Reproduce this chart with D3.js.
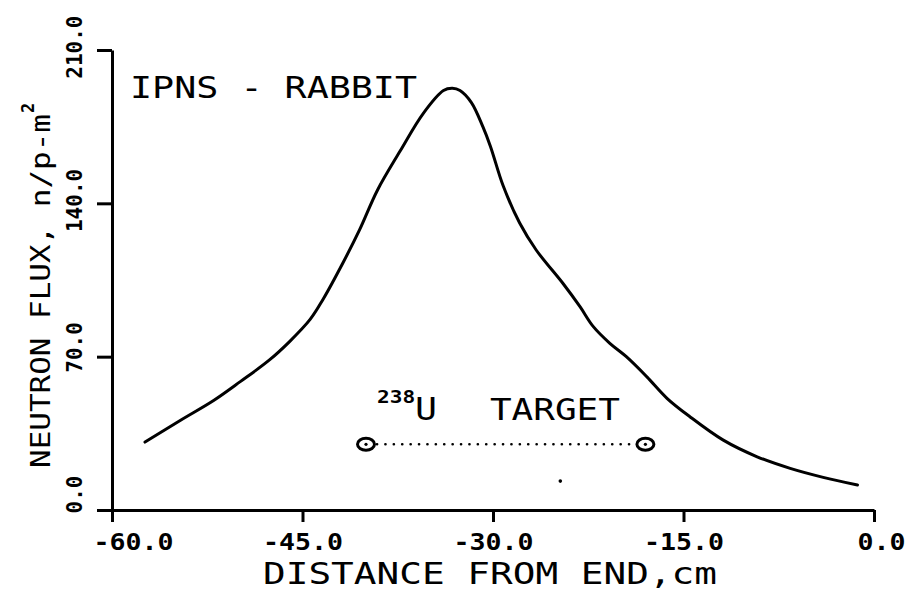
<!DOCTYPE html>
<html>
<head>
<meta charset="utf-8">
<script src="https://cdn.jsdelivr.net/npm/d3@7"></script>
<style>
  html, body { margin: 0; padding: 0; background: #fff; }
  svg { display: block; }
  text { font-family: "DejaVu Sans Mono", monospace; fill: #000; }
</style>
</head>
<body>
<svg id="chart" width="908" height="592"></svg>
<script>
// ---- data ----
const xTicks = [-60, -45, -30, -15, 0];
const xTickLabels = ["-60.0", "-45.0", "-30.0", "-15.0", "0.0"];
const yTicks = [0, 70, 140, 210];
const yTickLabels = ["0.0", "70.0", "140.0", "210.0"];

const distance = [-57.4, -54.6, -52.0, -49.9, -47.6, -46.0, -44.4, -43.4, -41.8, -40.5,
                  -39.1, -37.3, -35.5, -33.9, -33.2, -32.6, -31.7, -30.8, -30.2, -29.2,
                  -27.9, -26.6, -24.5, -23.15, -22.1, -20.8, -19.5, -17.9, -16.3, -14.5,
                  -11.9, -9.2, -6.6, -4.0, -1.3];
const flux = [31, 41, 50, 58.6, 68.5, 77, 87, 96, 113, 128,
              146, 164, 181, 191.5, 192.5, 191.5, 186, 175, 166, 148,
              131, 118.7, 103.5, 92.8, 83.7, 76.1, 70, 60.9, 51, 42.6,
              32, 24.3, 19, 14.9, 11.4];

const targetExtent = [-40, -18];
const targetFlux = 30;
const strayPoint = [[-24.7, 13.2]];

const xTitle = "DISTANCE FROM END,cm";
const yTitle = "NEUTRON FLUX, n/p-m";
const yTitleSup = "2";
const plotLabel = "IPNS - RABBIT";
const targetIsotope = "238";
const targetElement = "U";
const targetWord = "TARGET";

// ---- chart ----
const svg = d3.select("#chart");
const x = d3.scaleLinear().domain([-60, 0]).range([112, 874]);
const y = d3.scaleLinear().domain([0, 210]).range([510, 50]);

const ink = "#000";

// X axis
const xAxis = svg.append("g")
  .attr("transform", `translate(0,${y(0)})`)
  .call(d3.axisBottom(x).tickValues(xTicks).tickSize(12).tickSizeOuter(0)
        .tickFormat((d, i) => xTickLabels[i]));
xAxis.select(".domain").attr("stroke", ink).attr("stroke-width", 3);
xAxis.selectAll(".tick line").attr("stroke", ink).attr("stroke-width", 3);
xAxis.selectAll(".tick text")
  .attr("y", 40).attr("dy", 0)
  .attr("dx", (d, i) => i === 0 ? 21 : (i === xTicks.length - 1 ? 7 : 0))
  .attr("font-size", 23).attr("font-weight", "bold")
  .attr("font-family", "DejaVu Sans Mono")
  .attr("textLength", (d, i) => xTickLabels[i].length * 16)
  .attr("lengthAdjust", "spacingAndGlyphs")
  .attr("fill", ink);

// Y axis
const yAxis = svg.append("g")
  .attr("transform", `translate(${x(-60)},0)`)
  .call(d3.axisLeft(y).tickValues(yTicks).tickSize(15).tickSizeOuter(0)
        .tickFormat((d, i) => yTickLabels[i]));
yAxis.select(".domain").attr("stroke", ink).attr("stroke-width", 3);
yAxis.selectAll(".tick line").attr("stroke", ink).attr("stroke-width", 3);
yAxis.selectAll(".tick text")
  .attr("x", 0).attr("y", 0).attr("dy", 0)
  .attr("transform", "translate(-30,-35) rotate(-90)")
  .attr("text-anchor", "end")
  .attr("font-size", 21).attr("font-weight", "bold")
  .attr("font-family", "DejaVu Sans Mono")
  .attr("fill", ink);

// Curve
const line = d3.line()
  .x((d, i) => x(distance[i]))
  .y((d, i) => y(flux[i]))
  .curve(d3.curveCatmullRom.alpha(0.5));
svg.append("path")
  .datum(flux)
  .attr("d", line)
  .attr("fill", "none")
  .attr("stroke", ink)
  .attr("stroke-width", 3)
  .attr("stroke-linejoin", "round")
  .attr("stroke-linecap", "round");

// Target extent (dotted line with end markers)
svg.append("line")
  .attr("x1", x(targetExtent[0]) + 11).attr("x2", x(targetExtent[1]) - 9)
  .attr("y1", y(targetFlux)).attr("y2", y(targetFlux))
  .attr("stroke", ink).attr("stroke-width", 2.6)
  .attr("stroke-linecap", "round")
  .attr("stroke-dasharray", "0.1 8.3");
targetExtent.forEach(v => {
  svg.append("ellipse")
    .attr("cx", x(v)).attr("cy", y(targetFlux))
    .attr("rx", 8.5).attr("ry", 6)
    .attr("fill", "none").attr("stroke", ink).attr("stroke-width", 3);
  svg.append("circle")
    .attr("cx", x(v)).attr("cy", y(targetFlux)).attr("r", 1.6).attr("fill", ink);
});

// stray point in the original figure
svg.selectAll("circle.stray").data(strayPoint).enter().append("circle")
  .attr("class", "stray")
  .attr("cx", d => x(d[0])).attr("cy", d => y(d[1])).attr("r", 1.8).attr("fill", ink);

// Labels
svg.append("text")
  .attr("x", x(-58.58)).attr("y", y(188.1))
  .attr("font-size", 31)
  .attr("textLength", 287).attr("lengthAdjust", "spacingAndGlyphs")
  .text(plotLabel);

svg.append("text")
  .attr("x", x(-39.13)).attr("y", y(48.8))
  .attr("font-size", 18).attr("font-weight", "bold")
  .attr("textLength", 38).attr("lengthAdjust", "spacingAndGlyphs")
  .text(targetIsotope);
svg.append("text")
  .attr("x", x(-36.14)).attr("y", y(41.1))
  .attr("font-size", 32)
  .attr("textLength", 22).attr("lengthAdjust", "spacingAndGlyphs")
  .text(targetElement);
svg.append("text")
  .attr("x", x(-30.24)).attr("y", y(41.1))
  .attr("font-size", 31)
  .attr("textLength", 130).attr("lengthAdjust", "spacingAndGlyphs")
  .text(targetWord);

// Axis titles
svg.append("text")
  .attr("x", 263).attr("y", 584)
  .attr("font-size", 31)
  .attr("textLength", 454).attr("lengthAdjust", "spacingAndGlyphs")
  .text(xTitle);

svg.append("text")
  .attr("transform", "rotate(-90)")
  .attr("x", -468).attr("y", 50)
  .attr("font-size", 27)
  .attr("textLength", 354).attr("lengthAdjust", "spacingAndGlyphs")
  .text(yTitle);
svg.append("text")
  .attr("transform", "rotate(-90)")
  .attr("x", -113).attr("y", 34)
  .attr("font-size", 17).attr("font-weight", "bold")
  .text(yTitleSup);
</script>
</body>
</html>
